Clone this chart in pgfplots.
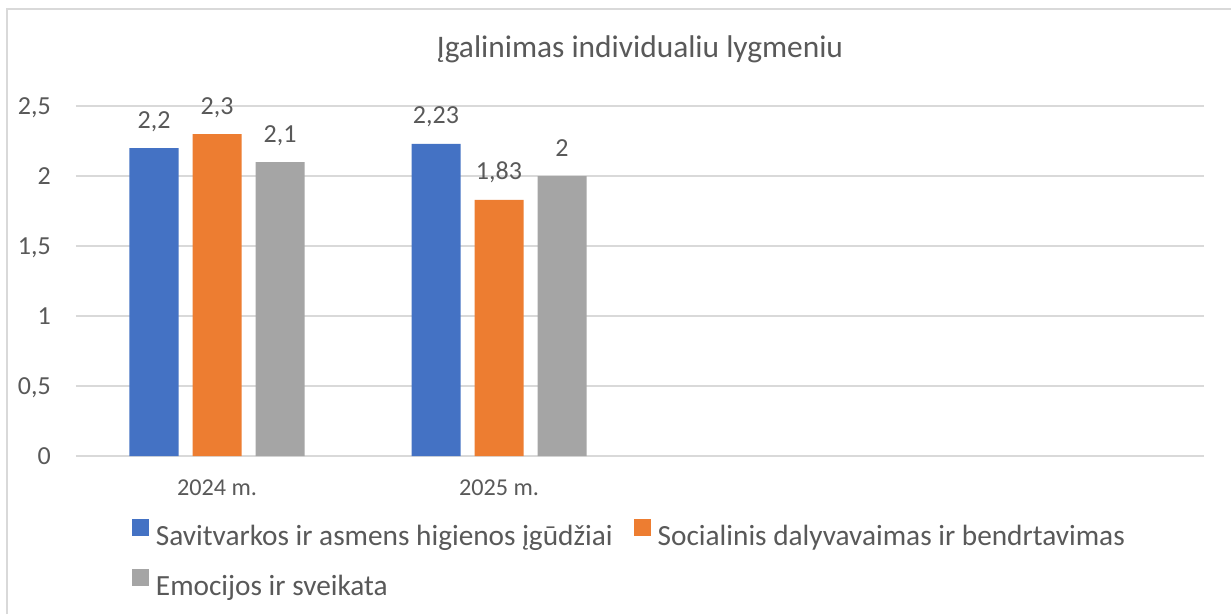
\documentclass[border=0pt]{standalone}
\usepackage{pgfplots}
\pgfplotsset{compat=1.18}
\usepackage{fontspec}
\setmainfont{Carlito}
\definecolor{cblue}{HTML}{4472C4}
\definecolor{corange}{HTML}{ED7D31}
\definecolor{cgray}{HTML}{A5A5A5}
\definecolor{gridc}{HTML}{D9D9D9}
\definecolor{txt}{HTML}{595959}
\begin{document}
\begin{tikzpicture}[x=1pt,y=1pt]
\useasboundingbox (0,0) rectangle (1231,614);
\fill[white] (0,0) rectangle (1231,614);
\draw[gridc, line width=1.5pt] (7,0) -- (7,605) -- (1232,605);
\begin{axis}[
  at={(76pt,158pt)}, anchor=south west,
  scale only axis, width=1128pt, height=350pt,
  ymin=0, ymax=2.5, xmin=-0.5, xmax=3.5,
  ytick={0,0.5,1,1.5,2,2.5},
  xtick={0,1}, xticklabels={2024 m., 2025 m.},
  ymajorgrids, grid style={gridc, line width=1.5pt},
  axis line style={draw=none},
  major tick length=0pt,
  ybar=14pt, bar width=49pt,
  /pgf/number format/.cd, use comma, assume math mode=true,
  /pgfplots/.cd,
  yticklabel style={font=\fontsize{26}{30}\selectfont, text=txt, anchor=base east, inner sep=0pt, xshift=-25pt, yshift=-8.3pt},
  xticklabel style={font=\fontsize{24.2}{28}\selectfont, text=txt, anchor=base, inner sep=0pt, yshift=-39.5pt},
  title={Įgalinimas individualiu lygmeniu},
  title style={font=\fontsize{31.4}{36}\selectfont, text=txt, at={(axis description cs:0.5,1)}, anchor=base, inner sep=0pt, yshift=42pt},
  nodes near coords,
  nodes near coords style={font=\fontsize{26}{30}\selectfont, text=txt, anchor=base, inner sep=0pt, yshift=20pt},
  legend columns=2,
  legend cell align=left,
  legend image code/.code={\fill[#1] (0pt,0pt) rectangle (17pt,17pt);},
  legend style={draw=none, fill=none, font=\fontsize{29.3}{34}\selectfont, text=txt,
    inner sep=0pt, outer sep=0pt,
    at={(axis description cs:0.0496,-0.18)}, anchor=north west,
    nodes={inner sep=0pt, inner xsep=7pt},
    /tikz/every even column/.append style={column sep=14pt},
    row sep=22pt},
]
\addplot[fill=cblue, draw=none] coordinates {(0,2.2) (1,2.23)};
\addplot[fill=corange, draw=none] coordinates {(0,2.3) (1,1.83)};
\addplot[fill=cgray, draw=none] coordinates {(0,2.1) (1,2)};
\legend{Savitvarkos ir asmens higienos įgūdžiai, Socialinis dalyvavaimas ir bendrtavimas, Emocijos ir sveikata}
\end{axis}
\end{tikzpicture}
\end{document}
